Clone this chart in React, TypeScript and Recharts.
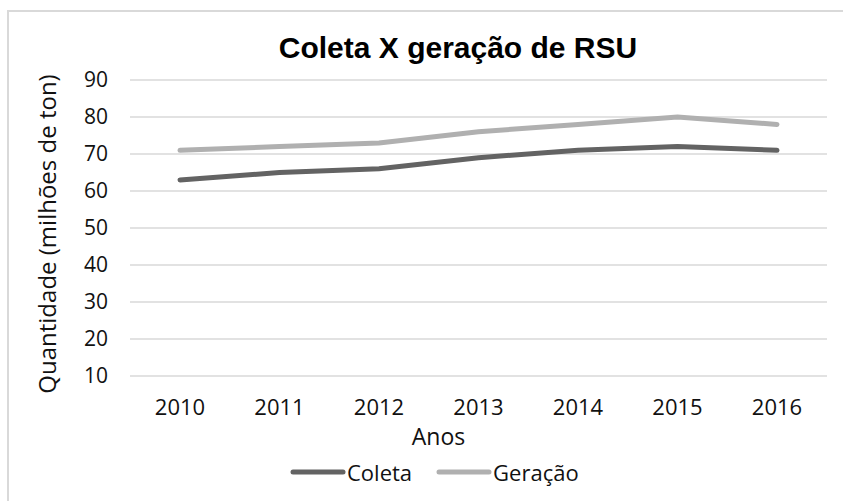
import React from "react"
import { CartesianGrid, Legend, Line, LineChart, XAxis, YAxis } from "recharts"

const anos = ["2010", "2011", "2012", "2013", "2014", "2015", "2016"]
const coleta = [63, 65, 66, 69, 71, 72, 71]
const geracao = [71, 72, 73, 76, 78, 80, 78]
const yTicks = [10, 20, 30, 40, 50, 60, 70, 80, 90]

const data = anos.map((ano, i) => ({ ano, Coleta: coleta[i], Geração: geracao[i] }))

const font = "'Open Sans', sans-serif"

function LegendContent({ payload }: any) {
  return (
    <div style={{ display: "flex", alignItems: "center", height: 42, fontFamily: font, fontSize: 22, color: "#111" }}>
      {(payload || []).map((p: any, i: number) => (
        <div key={p.value} style={{ display: "flex", alignItems: "center", marginLeft: i === 0 ? 0 : 24 }}>
          <svg width={56} height={8}>
            <line x1={3} y1={4} x2={53} y2={4} stroke={p.color} strokeWidth={5} strokeLinecap="round" />
          </svg>
          <span style={{ marginLeft: 1 }}>{p.value}</span>
        </div>
      ))}
    </div>
  )
}

// rotated y-axis title, a bit below the plot's middle like the original
function YTitle({ viewBox }: any) {
  const x = viewBox.x + 26
  const y = viewBox.y + viewBox.height / 2 + 6
  return (
    <text
      x={x}
      y={y}
      transform={`rotate(-90, ${x}, ${y})`}
      textAnchor="middle"
      dominantBaseline="central"
      fill="#111"
      fontSize={24}
      fontFamily={font}
    >
      Quantidade (milhões de ton)
    </text>
  )
}

export default function App() {
  return (
    <div style={{ position: "absolute", left: 0, top: 0, width: 843, height: 501, background: "#fff" }}>
      <div
        style={{
          position: "absolute",
          left: 7,
          top: 10,
          right: 0,
          bottom: 0,
          borderLeft: "2px solid #d9d9d9",
          borderTop: "2px solid #d9d9d9",
        }}
      />
      <div
        style={{
          position: "absolute",
          left: 258,
          width: 400,
          top: 33,
          textAlign: "center",
          fontFamily: "'Liberation Sans', Arial, sans-serif",
          fontWeight: "bold",
          fontSize: 30,
          lineHeight: "30px",
          color: "#000",
        }}
      >
        Coleta X geração de RSU
      </div>
      <div style={{ position: "absolute", left: 0, top: 0 }}>
        <LineChart width={843} height={501} data={data} margin={{ top: 80, right: 16, bottom: 8, left: 20 }}>
          <CartesianGrid horizontal vertical={false} stroke="#d9d9d9" strokeWidth={1.5} />
          <XAxis
            dataKey="ano"
            height={75}
            padding={{ left: 50, right: 50 }}
            axisLine={false}
            tickLine={false}
            tickSize={0}
            tickMargin={23}
            tick={{ fill: "#111", fontSize: 22, fontFamily: font }}
            label={{
              value: "Anos",
              position: "insideTop",
              offset: 53,
              dx: -40,
              style: { fill: "#111", fontSize: 23, fontFamily: font },
            }}
          />
          <YAxis
            domain={[10, 90]}
            ticks={yTicks}
            width={110}
            axisLine={false}
            tickLine={false}
            tickSize={0}
            tickMargin={22}
            tick={{ fill: "#111", fontSize: 21, fontFamily: font }}
            label={<YTitle />}
          />
          <Legend
            verticalAlign="bottom"
            align="left"
            height={42}
            content={<LegendContent />}
            wrapperStyle={{ left: 290, width: 330 }}
          />
          <Line
            type="linear"
            dataKey="Coleta"
            stroke="#636363"
            strokeWidth={5}
            strokeLinecap="round"
            dot={false}
            isAnimationActive={false}
          />
          <Line
            type="linear"
            dataKey="Geração"
            stroke="#b0b0b0"
            strokeWidth={5}
            strokeLinecap="round"
            dot={false}
            isAnimationActive={false}
          />
        </LineChart>
      </div>
    </div>
  )
}
